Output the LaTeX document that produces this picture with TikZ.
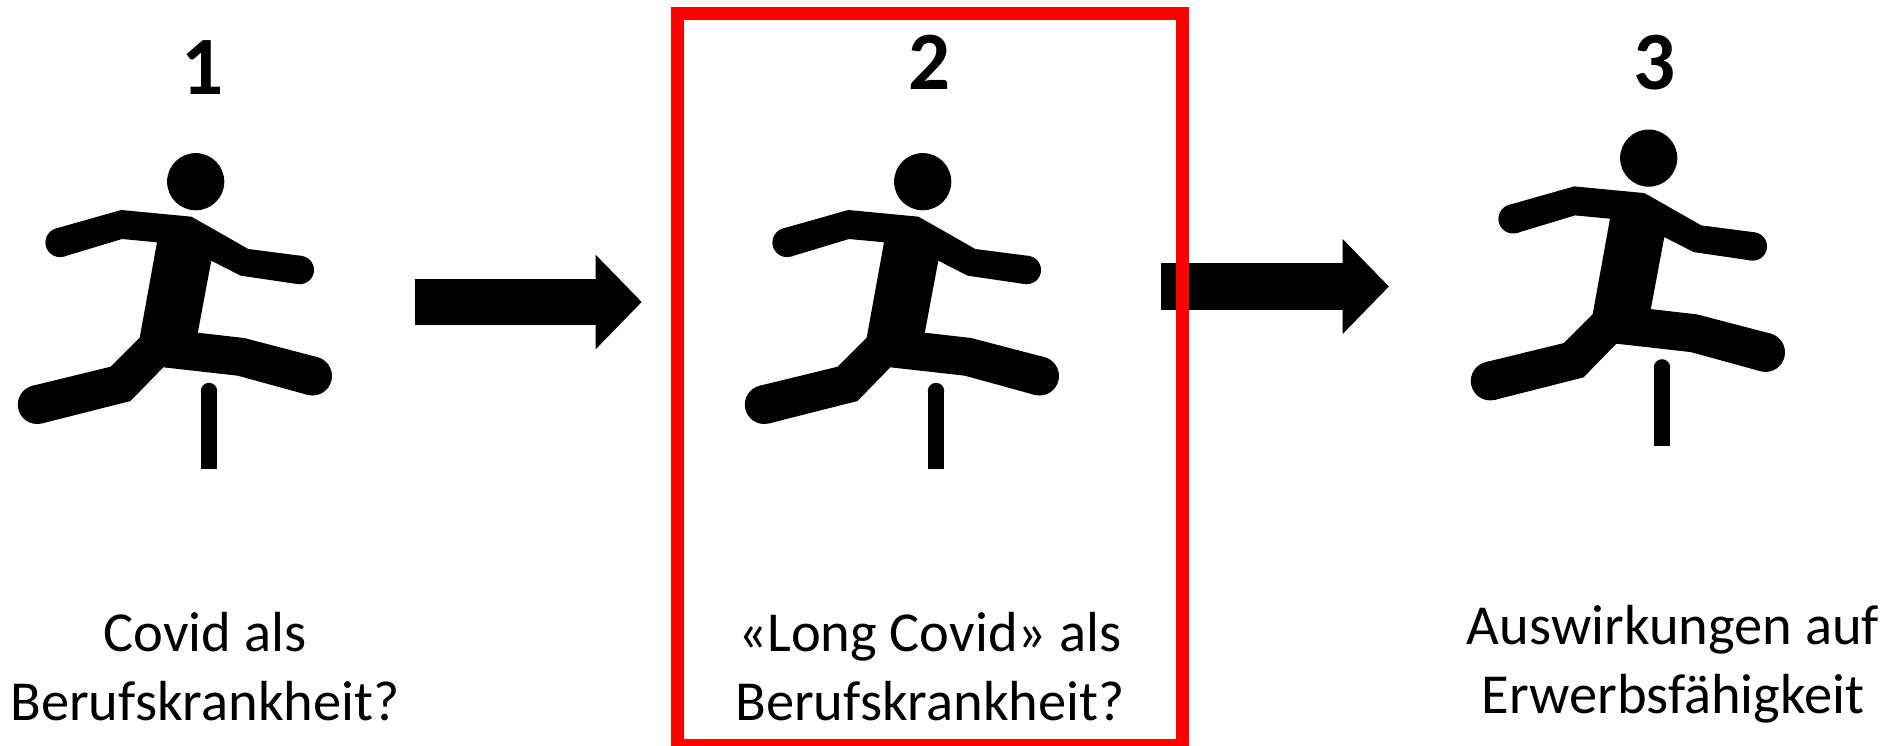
\documentclass[tikz,border=0pt]{standalone}
\usepackage{fontspec}
\setmainfont{Carlito}
\usetikzlibrary{arrows.meta}
\tikzset{
  x=1pt,y=-1pt,
  caption/.style={inner sep=0pt,align=center,font=\fontsize{56.5}{69}\selectfont,text=black},
  digit/.style={inner sep=0pt,anchor=base,font=\fontsize{83}{83}\selectfont\bfseries,text=black},
  blockarrow/.style={draw=black,line width=46.5pt,-{Triangle[length=46.3pt,width=92pt,sep=0pt]},shorten >=0pt},
  runner/.pic={
    \fill[black] (195.7,181.7) circle[radius=28.6];
    \fill[black] (55.9,228.5) -- (121.2,210) -- (191.5,216.7) -- (248.3,249) -- (301.6,255.9)
      -- (298,284.1)
      -- (240.7,275.7) -- (211.3,260.7) -- (197.8,332.7) -- (244.1,338) -- (317.6,357.2)
      -- (307.4,394.8)
      -- (237.8,375.7) -- (163.3,367.3) -- (130.5,401) -- (42.05,423.4)
      -- (32.35,385.8)
      -- (110.7,366.7) -- (139.7,337.7) -- (157,242.3) -- (122,239) -- (64.1,256.5)
      -- cycle;
    \fill[black] (60,242.5) circle[radius=14.6];
    \fill[black] (299.8,270) circle[radius=14.2];
    \fill[black] (312.5,376) circle[radius=19.5];
    \fill[black] (37.2,404.6) circle[radius=19.4];
    \fill[black] (209,391) circle[radius=8.2];
    \fill[black] (200.8,469.3) rectangle (217.2,391);
  }
}
\begin{document}
\begin{tikzpicture}
\useasboundingbox (0,0) rectangle (1899,746);
\fill[white] (0,0) rectangle (1899,746);
\pic at (0,0) {runner};
\pic at (727,0) {runner};
\pic at (1453,-23.6) {runner};
\coordinate (a1s) at (414.6,302);
\coordinate (a1e) at (641.8,302);
\coordinate (a2s) at (1161,286.5);
\coordinate (a2e) at (1389,286.5);
\draw[blockarrow] (a1s) -- (a1e);
\draw[blockarrow] (a2s) -- (a2e);
\draw[red,line width=13pt] (677,13.5) rectangle (1182,745);
\node[digit] (d1) at (203,95) {1};
\node[digit] (d2) at (930,89.5) {2};
\node[digit] (d3) at (1655,89.5) {3};
\node[caption] (c1) at (205,667) {Covid als\\Berufskrankheit?};
\node[caption] (c2) at (930,667) {«Long Covid» als\\Berufskrankheit?};
\node[caption] (c3) at (1673,664) {Auswirkungen auf\\Erwerbsfähigkeit};
\end{tikzpicture}
\end{document}
